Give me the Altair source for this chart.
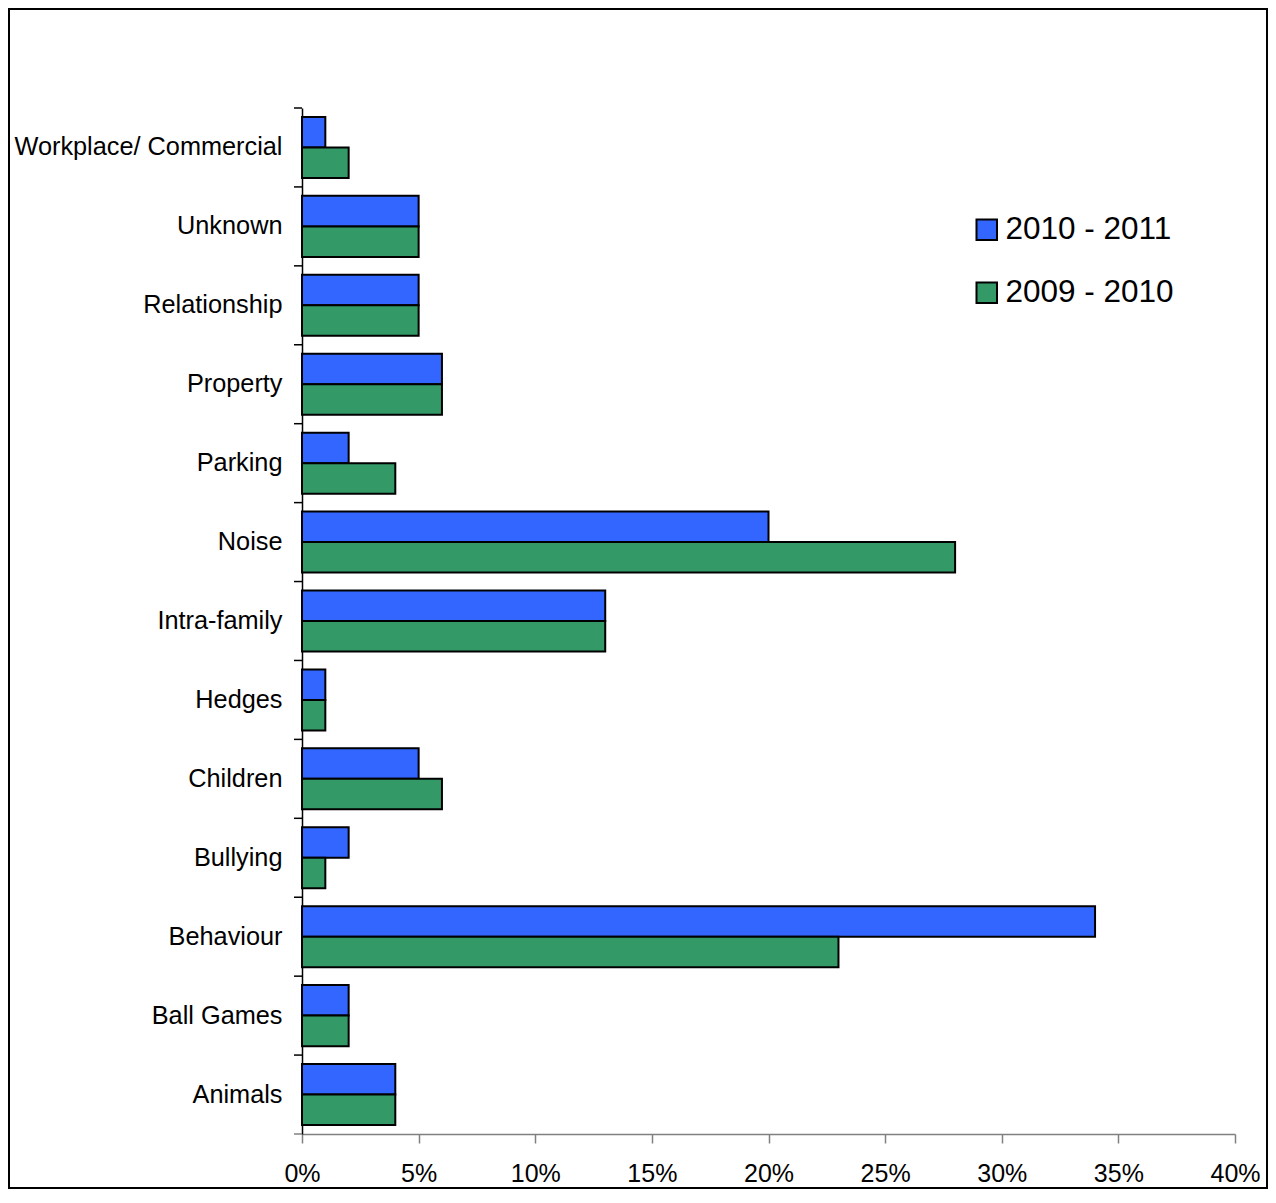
import altair as alt
import pandas as pd

categories = ["Workplace/ Commercial", "Unknown", "Relationship", "Property", "Parking",
              "Noise", "Intra-family", "Hedges", "Children", "Bullying", "Behaviour",
              "Ball Games", "Animals"]
series = ["2010 - 2011", "2009 - 2010"]
values_2010_2011 = [1, 5, 5, 6, 2, 20, 13, 1, 5, 2, 34, 2, 4]
values_2009_2010 = [2, 5, 5, 6, 4, 28, 13, 1, 6, 1, 23, 2, 4]
colors = ["#3366FF", "#339966"]
x_ticks = [0, 0.05, 0.10, 0.15, 0.20, 0.25, 0.30, 0.35, 0.40]

rows = []
for c, a, b in zip(categories, values_2010_2011, values_2009_2010):
    rows.append({"category": c, "series": series[0], "value": a / 100})
    rows.append({"category": c, "series": series[1], "value": b / 100})
df = pd.DataFrame(rows)
cat_df = pd.DataFrame({"category": categories})

W, H = 933, 1026
FONT = "Liberation Sans"
LEFT, TOP, RIGHT, BOTTOM = 294, 100, 33, 56

yscale = alt.Scale(domain=categories, paddingInner=0, paddingOuter=0)

bars = alt.Chart(df).mark_bar(stroke="black", strokeWidth=2).encode(
    x=alt.X("value:Q", scale=alt.Scale(domain=[0, 0.4], nice=False),
            axis=alt.Axis(format=".0%", values=x_ticks, grid=False, domainColor="#808080",
                          tickColor="#808080", tickSize=9, labelFontSize=25, labelPadding=18,
                          labelColor="black", labelFont=FONT, title=None, domainWidth=1.5,
                          tickWidth=1.5, labelFlush=False)),
    y=alt.Y("category:N", sort=categories, scale=yscale,
            axis=alt.Axis(title=None, ticks=False, labelFontSize=25.3, labelPadding=20,
                          labelColor="black", labelFont=FONT, domainColor="black",
                          domainWidth=1.5, labelLimit=400)),
    yOffset=alt.YOffset("series:N", sort=series,
                        scale=alt.Scale(domain=series, paddingOuter=0.293, paddingInner=0)),
    color=alt.Color("series:N", sort=series, scale=alt.Scale(domain=series, range=colors),
                    legend=alt.Legend(title=None, orient="none", legendX=669, legendY=106,
                                      symbolType="square", symbolSize=420,
                                      symbolStrokeColor="black", symbolStrokeWidth=2,
                                      labelFontSize=31.5, labelFont=FONT, labelColor="black",
                                      rowPadding=30, labelOffset=3, padding=0,
                                      labelLimit=400, symbolOpacity=1)),
)

ticks = alt.Chart(cat_df).mark_rule(color="black", strokeWidth=1.5).encode(
    y=alt.Y("category:N", sort=categories, scale=yscale, bandPosition=0),
    x=alt.value(-8),
    x2=alt.value(0),
)

bottom_tick = alt.Chart(cat_df.head(1)).mark_rule(color="#808080", strokeWidth=1.5).encode(
    y=alt.value(H), x=alt.value(-8), x2=alt.value(0)
)

frame = alt.Chart(cat_df.head(1)).mark_rect(fill=None, stroke="black", strokeWidth=2).encode(
    x=alt.value(-LEFT + 1), x2=alt.value(W + RIGHT - 1),
    y=alt.value(-TOP + 1), y2=alt.value(H + BOTTOM - 2)
)

chart = alt.layer(frame, bars, ticks, bottom_tick).properties(
    width=W, height=H,
    background="white",
    autosize=alt.AutoSizeParams(type="none"),
    padding={"left": LEFT, "top": TOP, "right": RIGHT, "bottom": BOTTOM},
).configure_view(stroke=None)

chart.save("out.html", embed_options={"renderer": "svg", "actions": False})
